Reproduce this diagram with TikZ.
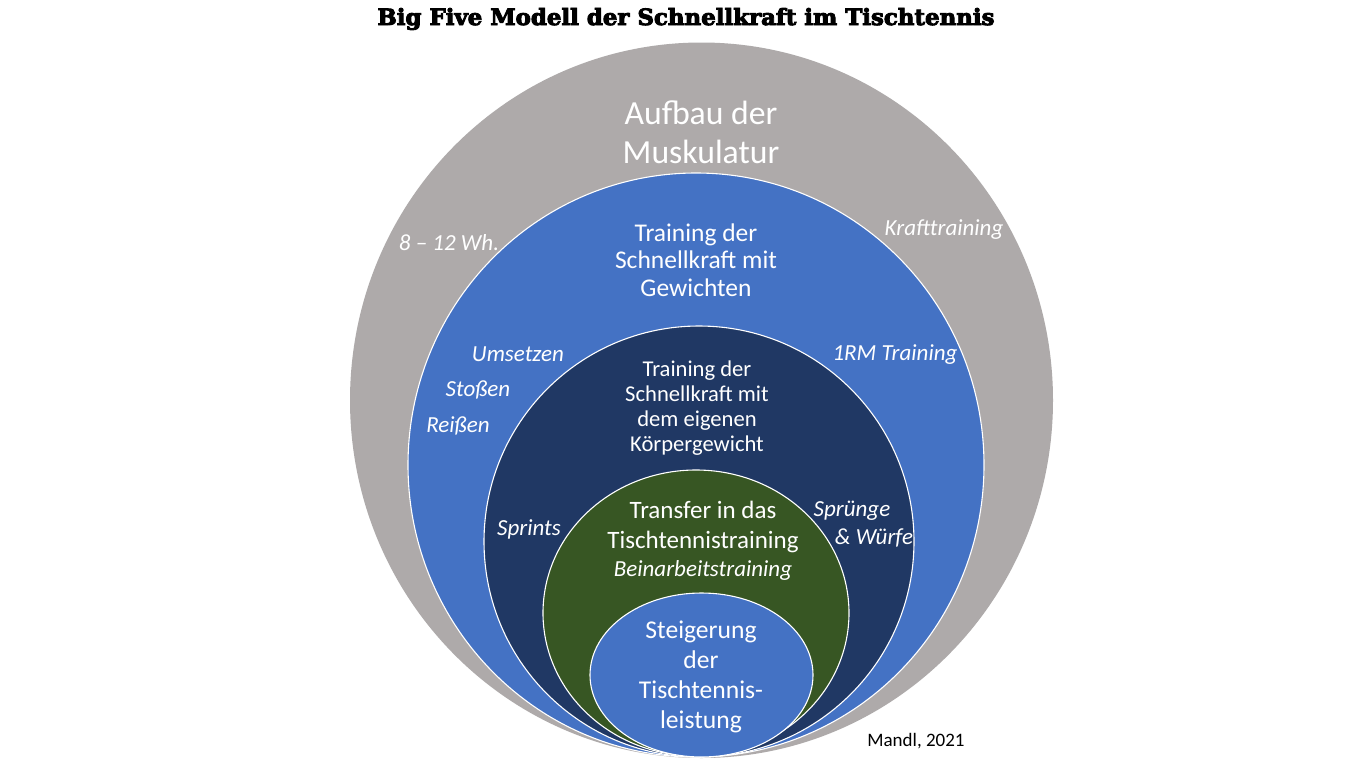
\documentclass[tikz,border=0pt]{standalone}
\usepackage{fontspec}
\setmainfont{Carlito}
\newfontfamily\titlefont{DejaVu Serif}[BoldFeatures={FakeBold=4}]
\usetikzlibrary{shapes.geometric}
\definecolor{ringgrey}{HTML}{AEAAAA}
\definecolor{ringblue}{HTML}{4472C4}
\definecolor{ringnavy}{HTML}{203864}
\definecolor{ringgreen}{HTML}{375623}
\begin{document}
\begin{tikzpicture}[x=1pt,y=-1pt,
  ring/.style={ellipse, inner sep=0pt, outer sep=0pt, draw=white, line width=1.1pt},
  lbl/.style={text=white, inner sep=0pt, align=center},
  ital/.style={text=white, inner sep=0pt, font=\fontsize{23}{26}\selectfont\itshape}]
\useasboundingbox (0,0) rectangle (1353,761);
\fill[white] (0,0) rectangle (1353,761);
% rings
\node[ring, draw=none, fill=ringgrey, minimum width=703pt, minimum height=715.5pt] (outer) at (701.5,400.25) {};
\node[ring, fill=ringblue, minimum width=576pt, minimum height=584pt] (blue) at (696,465) {};
\node[ring, fill=ringnavy, minimum width=430pt, minimum height=431pt] (navy) at (699,541.5) {};
\node[ring, fill=ringgreen, minimum width=306pt, minimum height=286pt] (green) at (696,613) {};
\node[ring, fill=ringblue, minimum width=223pt, minimum height=164pt] (inner) at (701.5,675) {};
% title
\node[inner sep=0pt, anchor=base] (title) at (686,25) {\resizebox{617pt}{17pt}{\titlefont\bfseries Big Five Modell der Schnellkraft im Tischtennis}};
% main texts
\node[lbl, font=\fontsize{33.7}{39}\selectfont] (t1) at (701,132) {Aufbau der\\Muskulatur};
\node[lbl, font=\fontsize{25.5}{27.5}\selectfont] (t2) at (696,260) {Training der\\Schnellkraft mit\\Gewichten};
\node[lbl, font=\fontsize{22.6}{25}\selectfont] (t3) at (697,408) {Training der\\Schnellkraft mit\\dem eigenen\\Körpergewicht};
\node[lbl, font=\fontsize{25}{30}\selectfont] (t4) at (703,527) {Transfer in das\\Tischtennistraining};
\node[ital] (t4b) at (703,570) {Beinarbeitstraining};
\node[lbl, font=\fontsize{25.6}{30}\selectfont] (t5) at (701,677) {Steigerung\\der\\Tischtennis-\\leistung};
% italic labels
\node[ital] (l1) at (449,243) {8 -- 12 Wh.};
\node[ital] (l2) at (944,230) {Krafttraining};
\node[ital] (l3) at (518,354) {Umsetzen};
\node[ital] (l4) at (478,390) {Stoßen};
\node[ital] (l5) at (458,426) {Reißen};
\node[ital] (l6) at (895,355) {1RM Training};
\node[ital] (l7) at (529,529) {Sprints};
\node[ital] (l8) at (852,511) {Sprünge};
\node[ital] (l9) at (874,538) {\& Würfe};
\node[inner sep=0pt, font=\fontsize{19}{22}\selectfont] (src) at (916,741) {Mandl, 2021};
\end{tikzpicture}
\end{document}
